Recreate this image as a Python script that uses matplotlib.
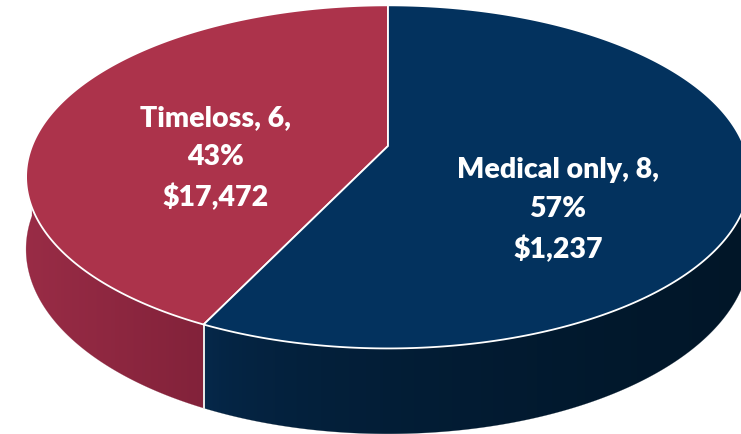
import numpy as np
import matplotlib
matplotlib.use("Agg")
import matplotlib.pyplot as plt
from matplotlib.patches import Polygon
from matplotlib.colors import to_rgb

# ---- data ----
categories = ["Medical only", "Timeloss"]
counts = [8, 6]
costs = [1237, 17472]
top_colors = ["#03325E", "#AC334B"]
side_colors_start = ["#062A4E", "#992C46"]
side_colors_end = ["#011628", "#82223A"]
side_gamma = [0.45, 1.0]

# ---- geometry (pixels) ----
W, H = 741, 434
cx, cy = 388, 146
a, b = 356, 166
g = 0.18
depth = 70

def proj(theta, drop=0.0):
    t = np.radians(theta)
    u, v = np.cos(t), np.sin(t)
    s = 1.0 / (1.0 + g * v)
    return cx + a * u * s, cy - b * v * s + drop * s

fig = plt.figure(figsize=(W / 100, H / 100), dpi=100)
ax = fig.add_axes([0, 0, 1, 1])
ax.set_xlim(0, W)
ax.set_ylim(H, 0)
ax.axis("off")

total = sum(counts)
order = [1, 0]
ranges = {}
start = 90.0
for i in order:
    ext = 360.0 * counts[i] / total
    ranges[i] = (start, start + ext)
    start += ext

# ---- side walls (front half) with horizontal gradient ----
for i in order:
    t0, t1 = ranges[i]
    for off in (0, 360):
        lo = max(t0, 180 + off)
        hi = min(t1, 360 + off)
        if hi <= lo:
            continue
        tt = np.linspace(lo, hi, 400)
        xs_t, ys_t = proj(tt)
        xs_b, ys_b = proj(tt[::-1], depth)
        pts = np.column_stack([np.r_[xs_t, xs_b], np.r_[ys_t, ys_b]])
        poly = Polygon(pts, closed=True, facecolor="none", edgecolor="none")
        ax.add_patch(poly)
        x0, x1 = pts[:, 0].min(), pts[:, 0].max()
        y0, y1 = pts[:, 1].min(), pts[:, 1].max()
        c0 = np.array(to_rgb(side_colors_start[i]))
        c1 = np.array(to_rgb(side_colors_end[i]))
        f = np.linspace(0, 1, 256) ** side_gamma[i]
        grad = (c0[None, :] + (c1 - c0)[None, :] * f[:, None])[None, :, :]
        im = ax.imshow(grad, extent=(x0 - 1, x1 + 1, y1 + 1, y0 - 1),
                       aspect="auto", interpolation="bilinear", zorder=2)
        im.set_clip_path(poly)
        ax.add_patch(Polygon(pts, closed=True, facecolor="none",
                             edgecolor=c1, lw=0.3, zorder=2, alpha=0.5))

# white split line on the side
for i in order:
    for t in ranges[i]:
        tm = t % 360
        if 180 < tm < 360:
            x0, y0 = proj(tm)
            x1, y1 = proj(tm, depth)
            ax.plot([x0, x1], [y0, y1], color="#e8e8e8", lw=1.3, zorder=3)

ax.set_xlim(0, W)
ax.set_ylim(H, 0)

# ---- top face ----
for i in order:
    t0, t1 = ranges[i]
    tt = np.linspace(t0, t1, 300)
    xs, ys = proj(tt)
    pts = np.column_stack([np.r_[cx, xs], np.r_[cy, ys]])
    ax.add_patch(Polygon(pts, closed=True, facecolor=top_colors[i],
                         edgecolor="white", lw=1.3, zorder=4))

# ---- labels ----
label_pos = {0: (558, 210), 1: (216, 158)}
for i in order:
    pct = round(100 * counts[i] / total)
    txt = f"{categories[i]}, {counts[i]},\n{pct}%\n${costs[i]:,}"
    x, y = label_pos[i]
    ax.text(x, y, txt, ha="center", va="center", color="white",
            fontsize=20.5, fontweight="heavy", family=["Lato", "DejaVu Sans"],
            linespacing=1.6, zorder=6)

fig.savefig("out.png", dpi=100)
